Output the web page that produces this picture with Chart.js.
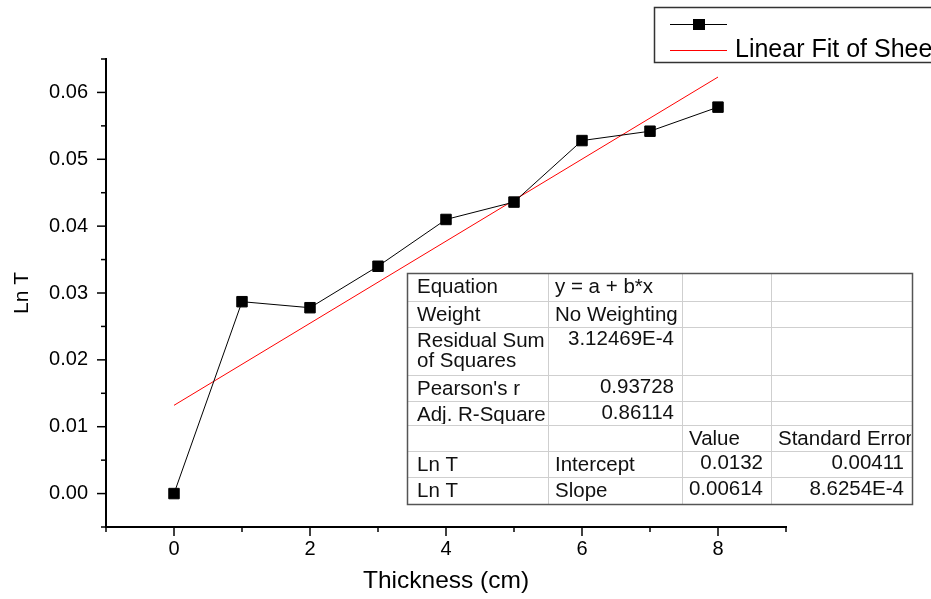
<!DOCTYPE html>
<html>
<head>
<meta charset="utf-8">
<script src="https://cdn.jsdelivr.net/npm/chart.js@4.4.1/dist/chart.umd.min.js"></script>
<style>
  html, body { margin: 0; padding: 0; background: #fff; }
  #wrap { width: 931px; height: 599px; position: relative; overflow: hidden; }
</style>
</head>
<body>
<div id="wrap"><canvas id="chart" width="931" height="599"></canvas></div>
<script>
// thickness (cm) vs Ln T
const thickness = [0, 1, 2, 3, 4, 5, 6, 7, 8];
const lnT = [0.0000, 0.0287, 0.0278, 0.0340, 0.0410, 0.0436, 0.0528, 0.0542, 0.0578];

// end points of the linear fit line
const fitX = [0, 8];
const fitY = [0.0132, 0.0623];

const seriesLabels = ['', 'Linear Fit of Sheet1 B'];

// fit report, one entry per row (\n = second line in the cell)
const tableRows = [
    ['Equation', 'y = a + b*x', '', ''],
    ['Weight', 'No Weighting', '', ''],
    ['Residual Sum\nof Squares', '3.12469E-4', '', ''],
    ["Pearson's r", '0.93728', '', ''],
    ['Adj. R-Square', '0.86114', '', ''],
    ['', '', 'Value', 'Standard Error'],
    ['Ln T', 'Intercept', '0.0132', '0.00411'],
    ['Ln T', 'Slope', '0.00614', '8.6254E-4']
];

const FONT = "'Liberation Sans', Arial, sans-serif";
Chart.defaults.font.family = FONT;
Chart.defaults.color = '#000';

// tick marks, legend box and the fit table
const decor = {
    id: 'decor',
    afterDraw(chart) {
        const ctx = chart.ctx;
        const xs = chart.scales.x, ys = chart.scales.y;
        const area = chart.chartArea;
        ctx.save();

        // major / minor tick marks
        ctx.strokeStyle = '#000';
        ctx.lineWidth = 1.5;
        xs.ticks.forEach(t => {
            const px = xs.getPixelForValue(t.value);
            const len = t.label ? 9 : 5;
            ctx.beginPath();
            ctx.moveTo(px, area.bottom);
            ctx.lineTo(px, area.bottom + len);
            ctx.stroke();
        });
        ys.ticks.forEach(t => {
            const py = ys.getPixelForValue(t.value);
            const len = t.label ? 9 : 5;
            ctx.beginPath();
            ctx.moveTo(area.left, py);
            ctx.lineTo(area.left - len, py);
            ctx.stroke();
        });

        // legend
        const ds = chart.data.datasets;
        ctx.strokeStyle = '#333';
        ctx.lineWidth = 1.5;
        ctx.strokeRect(654.5, 7.5, 400, 55);
        ctx.lineWidth = 1;
        ctx.strokeStyle = ds[0].borderColor;
        ctx.beginPath();
        ctx.moveTo(670, 24.5);
        ctx.lineTo(727, 24.5);
        ctx.stroke();
        ctx.fillStyle = ds[0].pointBackgroundColor;
        ctx.fillRect(693, 19, 12, 11);
        ctx.strokeStyle = ds[1].borderColor;
        ctx.beginPath();
        ctx.moveTo(670, 50.5);
        ctx.lineTo(727, 50.5);
        ctx.stroke();
        ctx.fillStyle = '#000';
        ctx.font = '25px ' + FONT;
        ctx.textBaseline = 'middle';
        ctx.textAlign = 'left';
        ctx.fillText(ds[0].label, 735, 24);
        ctx.fillText(ds[1].label, 735, 50);

        // fit table
        const cols = [407, 548, 682, 771, 912];
        const rows = [273, 301, 327, 375, 401, 425, 451, 477, 504];
        const L = cols[0], R = cols[cols.length - 1];
        const T = rows[0], B = rows[rows.length - 1];
        ctx.fillStyle = '#fff';
        ctx.fillRect(L, T, R - L, B - T);
        ctx.strokeStyle = '#cfcfcf';
        ctx.lineWidth = 1;
        cols.slice(1, -1).forEach(c => {
            ctx.beginPath(); ctx.moveTo(c + 0.5, T); ctx.lineTo(c + 0.5, B); ctx.stroke();
        });
        rows.slice(1, -1).forEach(r => {
            ctx.beginPath(); ctx.moveTo(L, r + 0.5); ctx.lineTo(R, r + 0.5); ctx.stroke();
        });
        ctx.strokeStyle = '#555';
        ctx.lineWidth = 1.5;
        ctx.strokeRect(L + 0.5, T + 0.5, R - L, B - T);

        ctx.font = '20.5px ' + FONT;
        ctx.fillStyle = '#111';
        tableRows.forEach((row, ri) => {
            row.forEach((txt, ci) => {
                if (!txt) return;
                const x0 = cols[ci], x1 = cols[ci + 1];
                const y0 = rows[ri], y1 = rows[ri + 1];
                const numeric = /^[0-9.E\-]+$/.test(txt);
                ctx.save();
                ctx.beginPath();
                ctx.rect(x0 + 1, y0 + 1, x1 - x0 - 2, y1 - y0 - 2);
                ctx.clip();
                ctx.textAlign = numeric ? 'right' : 'left';
                const tx = numeric ? x1 - 8 : x0 + (ci === 0 ? 10 : 7);
                txt.split('\n').forEach((line, li) => {
                    ctx.fillText(line, tx, y0 + 14 + li * 20 - (numeric ? 2 : 0));
                });
                ctx.restore();
            });
        });
        ctx.restore();
    }
};

new Chart(document.getElementById('chart'), {
    type: 'scatter',
    data: {
        datasets: [{
            label: seriesLabels[0],
            data: thickness.map((t, i) => ({ x: t, y: lnT[i] })),
            showLine: true,
            borderColor: '#000',
            borderWidth: 1,
            pointStyle: 'rect',
            pointRadius: 7.4,
            pointBackgroundColor: '#000',
            pointBorderColor: '#000',
            pointBorderWidth: 1
        }, {
            label: seriesLabels[1],
            data: fitX.map((t, i) => ({ x: t, y: fitY[i] })),
            showLine: true,
            borderColor: '#ff0000',
            borderWidth: 1,
            pointRadius: 0
        }]
    },
    options: {
        responsive: false,
        animation: false,
        devicePixelRatio: 1,
        layout: { padding: { left: 0, top: 59, right: 145, bottom: 0 } },
        plugins: { legend: { display: false }, tooltip: { enabled: false } },
        scales: {
            x: {
                type: 'linear',
                min: -1,
                max: 9,
                afterFit: s => { s.height = 72; },
                grid: { display: true, drawOnChartArea: false, drawTicks: false },
                border: { display: true, color: '#000', width: 2 },
                ticks: {
                    stepSize: 1,
                    maxTicksLimit: 20,
                    autoSkip: false,
                    maxRotation: 0,
                    padding: 10,
                    font: { size: 20 },
                    color: '#000',
                    callback: v => {
                        const n = Math.round(v);
                        return (n % 2 === 0 && n >= 0 && n <= 8) ? String(n) : '';
                    }
                },
                title: {
                    display: true,
                    text: 'Thickness (cm)',
                    font: { size: 24.5 },
                    color: '#000',
                    padding: { top: 0, bottom: 3 }
                }
            },
            y: {
                type: 'linear',
                min: -0.005,
                max: 0.065,
                afterFit: s => { s.width = 106; },
                grid: { display: true, drawOnChartArea: false, drawTicks: false },
                border: { display: true, color: '#000', width: 2 },
                ticks: {
                    stepSize: 0.005,
                    maxTicksLimit: 20,
                    autoSkip: false,
                    padding: 18,
                    font: { size: 20 },
                    color: '#000',
                    callback: v => {
                        const n = Math.round(v * 1000);
                        return n % 10 === 0 ? (n / 1000).toFixed(2) : '';
                    }
                },
                title: {
                    display: true,
                    text: 'Ln T',
                    font: { size: 21 },
                    color: '#000',
                    padding: { top: 10, bottom: 0 }
                }
            }
        }
    },
    plugins: [decor]
});
</script>
</body>
</html>
